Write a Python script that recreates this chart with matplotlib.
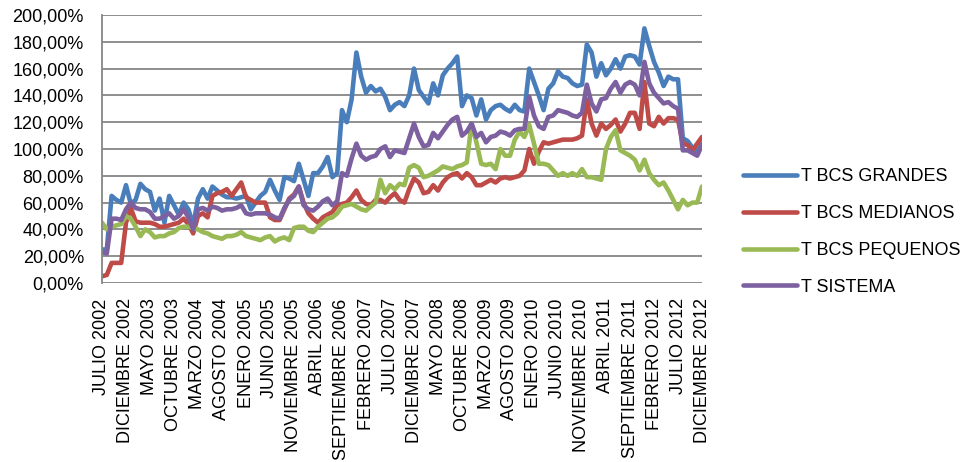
import matplotlib
matplotlib.use("Agg")
import matplotlib.pyplot as plt
from matplotlib.ticker import FuncFormatter, FixedLocator

plt.rcParams['font.family'] = ['Liberation Sans', 'DejaVu Sans']

# Monthly series, July 2002 .. December 2012 (values in %)
tick_labels = [
    "JULIO 2002", "DICIEMBRE 2002", "MAYO 2003", "OCTUBRE 2003", "MARZO 2004",
    "AGOSTO 2004", "ENERO 2005", "JUNIO 2005", "NOVIEMBRE 2005", "ABRIL 2006",
    "SEPTIEMBRE 2006", "FEBRERO 2007", "JULIO 2007", "DICIEMBRE 2007", "MAYO 2008",
    "OCTUBRE 2008", "MARZO 2009", "AGOSTO 2009", "ENERO 2010", "JUNIO 2010",
    "NOVIEMBRE 2010", "ABRIL 2011", "SEPTIEMBRE 2011", "FEBRERO 2012", "JULIO 2012",
    "DICIEMBRE 2012",
]

series_names = ["T BCS GRANDES", "T BCS MEDIANOS", "T BCS PEQUENOS", "T SISTEMA"]

grandes = [
    25, 25, 65, 62, 60, 73, 59, 62, 74, 70,
    68, 54, 63, 45, 65, 58, 51, 60, 55, 43,
    63, 70, 63, 72, 69, 66, 64, 64, 63, 64,
    65, 55, 60, 65, 68, 77, 69, 62, 79, 78,
    76, 89, 77, 65, 82, 82, 87, 94, 79, 82,
    129, 120, 137, 172, 154, 142, 147, 143, 145, 139,
    129, 133, 135, 132, 140, 160, 144, 139, 134, 149,
    140, 155, 160, 164, 169, 132, 140, 138, 125, 137,
    122, 129, 132, 133, 130, 128, 133, 129, 128, 160,
    150, 140, 129, 145, 149, 158, 154, 153, 149, 147,
    148, 178, 172, 154, 164, 155, 160, 167, 160, 169,
    170, 169, 163, 190, 177, 165, 157, 147, 154, 152,
    152, 108, 106, 101, 98, 104,
]

medianos = [
    5, 6, 15, 15, 15, 45, 56, 46, 45, 45,
    45, 44, 42, 42, 43, 44, 45, 48, 44, 37,
    50, 52, 49, 65, 67, 68, 70, 65, 70, 75,
    64, 62, 60, 60, 60, 49, 47, 47, 55, 63,
    66, 72, 60, 52, 48, 45, 49, 51, 53, 58,
    59, 60, 64, 69, 62, 59, 58, 62, 62, 60,
    64, 67, 62, 60, 70, 78, 75, 67, 68, 73,
    69, 75, 79, 81, 82, 78, 82, 79, 73, 73,
    75, 77, 75, 78, 79, 78, 79, 80, 84, 100,
    89, 98, 105, 104, 105, 106, 107, 107, 107, 108,
    110, 137, 119, 110, 119, 115, 118, 122, 113, 119,
    127, 127, 115, 150, 119, 117, 124, 119, 123, 123,
    122, 104, 103, 99, 104, 109,
]

pequenos = [
    45, 40, 42, 43, 44, 50, 48, 42, 35, 40,
    38, 34, 35, 35, 37, 38, 41, 42, 42, 41,
    40, 38, 37, 35, 34, 33, 35, 35, 36, 38,
    35, 34, 33, 32, 34, 35, 31, 33, 34, 32,
    41, 42, 42, 39, 38, 42, 45, 48, 49, 52,
    57, 58, 59, 57, 55, 54, 57, 60, 77, 67,
    73, 70, 74, 73, 86, 88, 86, 79, 80, 82,
    84, 87, 86, 85, 87, 88, 90, 119, 105, 89,
    88, 89, 85, 100, 95, 95, 107, 113, 109, 118,
    104, 89, 89, 88, 84, 80, 82, 80, 82, 80,
    85, 79, 79, 78, 77, 100, 109, 114, 99, 97,
    95, 92, 84, 92, 82, 77, 73, 75, 69, 62,
    55, 62, 58, 60, 60, 72,
]

sistema = [
    23, 22, 48, 48, 47, 55, 60, 56, 55, 55,
    53, 48, 48, 50, 52, 48, 50, 55, 49, 40,
    55, 56, 54, 57, 56, 54, 55, 55, 56, 58,
    52, 51, 52, 52, 52, 51, 49, 48, 56, 62,
    65, 72, 58, 55, 54, 57, 61, 63, 58, 61,
    82, 80, 93, 104, 95, 92, 94, 95, 100, 102,
    94, 99, 98, 97, 108, 119, 109, 102, 103, 112,
    108, 113, 118, 122, 124, 110, 113, 119, 109, 112,
    105, 109, 110, 113, 112, 110, 114, 115, 115, 139,
    125, 117, 115, 124, 125, 129, 128, 127, 125, 124,
    127, 148, 134, 128, 137, 138, 145, 150, 142, 148,
    150, 148, 140, 165, 149, 142, 138, 134, 135, 132,
    130, 99, 99, 97, 95, 103,
]

colors = ["#4A7EBB", "#BE4B48", "#98B954", "#7D60A0"]
grid_color = "#868686"
font_size = 13

fig = plt.figure(figsize=(9.67, 4.62), dpi=100)
ax = fig.add_axes([102 / 967, 1 - 283 / 462, 600 / 967, 268 / 462])

months = list(range(len(grandes)))
for values, name, color in zip([grandes, medianos, pequenos, sistema], series_names, colors):
    ax.plot(months, values, color=color, lw=3.3, label=name,
            solid_joinstyle="round", solid_capstyle="round")

ax.set_xlim(0, len(grandes) - 1)
ax.set_ylim(0, 200)

ax.yaxis.set_major_locator(FixedLocator(range(0, 201, 20)))
ax.yaxis.set_major_formatter(FuncFormatter(lambda v, p: f"{v:.2f}".replace(".", ",") + "%"))
ax.grid(axis="y", color=grid_color, lw=1.3)
ax.set_axisbelow(True)

ax.set_xticks(range(0, len(grandes), 5))
ax.set_xticklabels(tick_labels, rotation=90)

for side in ["top", "right", "bottom"]:
    ax.spines[side].set_visible(False)
ax.spines["left"].set_color(grid_color)
ax.spines["left"].set_linewidth(1.3)

ax.tick_params(axis="both", length=0, labelsize=font_size, colors="black")
ax.tick_params(axis="y", pad=13)
ax.tick_params(axis="x", pad=11)

fig.legend(loc="center left", bbox_to_anchor=(743 / 967, 1 - 232 / 462),
           frameon=False, fontsize=font_size, handlelength=3.0, handletextpad=0.2,
           labelspacing=1.09, borderpad=0, borderaxespad=0)

fig.savefig("out.png", dpi=100)
